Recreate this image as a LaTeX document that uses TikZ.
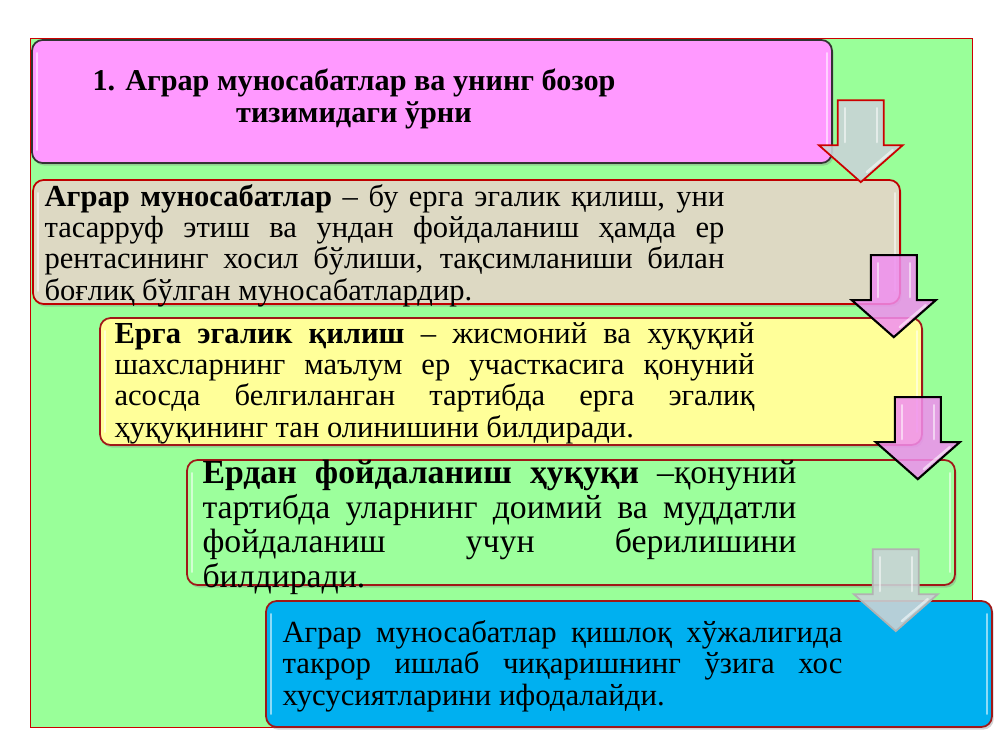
\documentclass[tikz,border=0pt]{standalone}
\usepackage{fontspec}
\setmainfont{Liberation Serif}
\usetikzlibrary{shadows}
\definecolor{slidegreen}{HTML}{99FF99}
\definecolor{boxpink}{HTML}{FF99FF}
\definecolor{boxtan}{HTML}{DDD9C3}
\definecolor{boxyellow}{HTML}{FFFF99}
\definecolor{boxgreen}{HTML}{9CFF9C}
\definecolor{boxblue}{HTML}{00B0F0}
\definecolor{arrgray}{HTML}{C9D3D6}
\definecolor{arrpink}{HTML}{F08EF0}
\definecolor{darkred}{HTML}{A01818}
\begin{document}
\begin{tikzpicture}[x=0.02cm,y=-0.02cm,
    box/.style={rounded corners=6pt, line width=1pt, inner sep=0pt,
      drop shadow={opacity=0.35, shadow xshift=1pt, shadow yshift=-1.5pt}},
    para/.style={anchor=north west, inner sep=0pt, align=justify,
      font=\fontsize{17.4}{17.8}\selectfont},
    gloss/.style={white, opacity=0.55, line width=1.4pt, line cap=round},
    redarrow/.style={fill=arrgray, fill opacity=0.9, draw=red!80!black, line width=1pt, line join=miter},
    palearrow/.style={fill=arrgray, fill opacity=0.9, draw=gray!60, line width=1pt, line join=miter},
    pinkarrow/.style={fill=arrpink, fill opacity=0.85, draw=black, line width=1.2pt, line join=miter}]
    \useasboundingbox (0,0) rectangle (1000,750);
    \fill[white] (0,0) rectangle (1000,750);
    \draw[fill=slidegreen, draw=red!80!black, line width=0.4pt] (30,38) rectangle (972,727);
    % boxes
    \node[box, draw=black!80, fill=boxpink, minimum width=16cm, minimum height=2.46cm] (b1) at (432,101.5) {};
    \node[box, draw=red!75!black, fill=boxtan, minimum width=17.34cm, minimum height=2.48cm] (b2) at (466.5,242) {};
    \node[box, draw=darkred, fill=boxyellow, minimum width=16.44cm, minimum height=2.54cm] (b3) at (511,381.5) {};
    \node[box, draw=darkred, fill=boxgreen, minimum width=15.36cm, minimum height=2.5cm] (b4) at (571,522.5) {};
    \node[box, draw=darkred, fill=boxblue, minimum width=14.52cm, minimum height=2.52cm] (b5) at (629,664) {};
    \foreach \b in {b1,b2,b3,b4,b5} {
      \draw[gloss] ([shift={(6,14)}]\b.north west) -- ([shift={(6,-14)}]\b.south west);
      \draw[gloss] ([shift={(-6,14)}]\b.north east) -- ([shift={(-6,-14)}]\b.south east);
    }
    % texts
    \node[anchor=north, inner sep=0pt, align=center, font=\fontsize{17.2}{18.2}\selectfont\bfseries] (t1) at (354,69)
      {1. Аграр муносабатлар ва унинг бозор\\тизимидаги ўрни};
    \node[para, text width=13.6cm] (t2) at ([shift={(12,5)}]b2.north west)
      {\textbf{Аграр муносабатлар} – бу ерга эгалик қилиш, уни\linebreak
       тасарруф этиш ва ундан фойдаланиш ҳамда ер\linebreak
       рентасининг хосил бўлиши, тақсимланиши билан\linebreak
       боғлиқ бўлган муносабатлардир.};
    \node[para, text width=12.8cm] (t3) at ([shift={(15,5)}]b3.north west)
      {\textbf{Ерга эгалик қилиш} – жисмоний ва хуқуқий\linebreak
       шахсларнинг маълум ер участкасига қонуний\linebreak
       асосда белгиланган тартибда ерга эгалиқ\linebreak
       ҳуқуқининг тан олинишини билдиради.};
    \node[para, text width=11.88cm, font=\fontsize{19.2}{19.6}\selectfont] (t4) at ([shift={(16,1)}]b4.north west)
      {\textbf{Ердан фойдаланиш ҳуқуқи} –қонуний\linebreak
       тартибда уларнинг доимий ва муддатли\linebreak
       фойдаланиш учун берилишини\linebreak
       билдиради.};
    \node[para, text width=11.2cm, font=\fontsize{17.5}{17.9}\selectfont] (t5) at ([shift={(17,20)}]b5.north west)
      {Аграр муносабатлар қишлоқ хўжалигида\linebreak
       такрор ишлаб чиқаришнинг ўзига хос\linebreak
       хусусиятларини ифодалайди.};
    % arrow tips
    \coordinate (a1) at ([shift={(-40,3)}]b2.north east);
    \coordinate (a2) at ([shift={(-29,20)}]b3.north east);
    \coordinate (a3) at ([shift={(-38,20)}]b4.north east);
    \coordinate (a4) at ([shift={(-97,31)}]b5.north east);
    \foreach \tip/\sty in {a1/redarrow, a2/pinkarrow, a3/pinkarrow, a4/palearrow} {
      \draw[\sty] (\tip) -- ++(42,-37) -- ++(-19,0) -- ++(0,-45) -- ++(-46,0) -- ++(0,45) -- ++(-19,0) -- cycle;
      \draw[gloss] ([shift={(-16,-40)}]\tip) -- ++(0,-34);
      \draw[gloss] ([shift={(16,-40)}]\tip) -- ++(0,-34);
      \draw[gloss] ([shift={(6,-10)}]\tip) -- ++(26,-22);
    }
\end{tikzpicture}
\end{document}
